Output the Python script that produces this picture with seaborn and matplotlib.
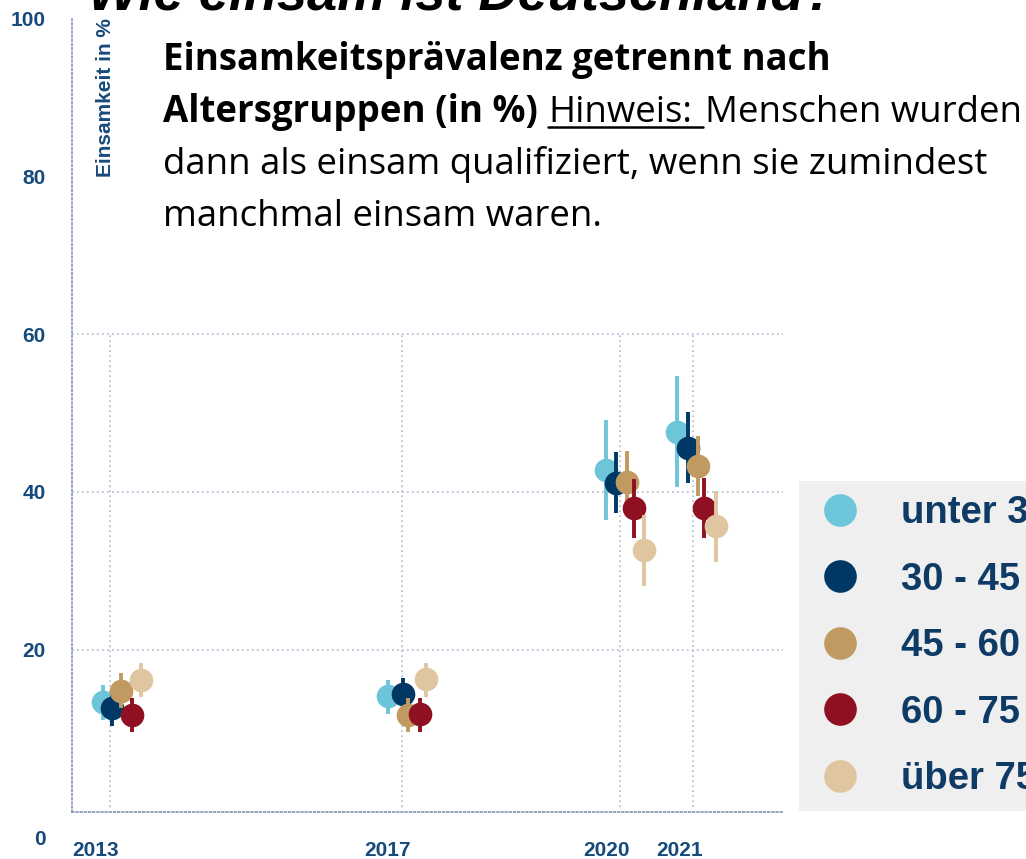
import numpy as np
import pandas as pd
import matplotlib
matplotlib.use("Agg")
import matplotlib.pyplot as plt
import matplotlib.transforms as mtransforms
from matplotlib.lines import Line2D
import seaborn as sns

sns.set_style("white")
plt.rcParams["font.family"] = ["Liberation Sans", "DejaVu Sans"]

# --- data --------------------------------------------------------------
groups = ["unter 30", "30 - 45", "45 - 60", "60 - 75", "über 75"]
colors = ["#6cc5d8", "#003865", "#c19a62", "#901023", "#dfc6a0"]
years = [2013, 2017, 2020, 2021]

# position of each estimate on the time axis (fractional year)
x_u30 = [2012.908, 2016.818, 2019.804, 2020.774]
x_3045 = [2013.023, 2017.015, 2019.941, 2020.925]
x_4560 = [2013.147, 2017.092, 2020.088, 2021.070]
x_6075 = [2013.298, 2017.252, 2020.188, 2021.148]
x_u75 = [2013.425, 2017.331, 2020.325, 2021.309]

val_u30 = [13.3, 14.1, 42.7, 47.6]
val_3045 = [12.6, 14.4, 41.1, 45.6]
val_4560 = [14.8, 11.7, 41.3, 43.3]
val_6075 = [11.7, 11.8, 38.0, 37.9]
val_u75 = [16.1, 16.2, 32.6, 35.7]

lo_u30 = [11.1, 11.8, 36.4, 40.6]
lo_3045 = [10.3, 11.8, 37.3, 41.1]
lo_4560 = [12.6, 9.5, 37.5, 39.4]
lo_6075 = [9.5, 9.5, 34.1, 34.1]
lo_u75 = [14.0, 14.0, 28.0, 31.1]

hi_u30 = [15.5, 16.1, 49.1, 54.7]
hi_3045 = [14.9, 16.4, 45.1, 50.1]
hi_4560 = [17.0, 13.9, 45.2, 47.1]
hi_6075 = [13.9, 13.9, 41.6, 41.7]
hi_u75 = [18.3, 18.3, 37.0, 40.1]

xs = [x_u30, x_3045, x_4560, x_6075, x_u75]
vals = [val_u30, val_3045, val_4560, val_6075, val_u75]
los = [lo_u30, lo_3045, lo_4560, lo_6075, lo_u75]
his = [hi_u30, hi_3045, hi_4560, hi_6075, hi_u75]

rows = []
for g, x, v, lo, hi in zip(groups, xs, vals, los, his):
    for i in range(len(x)):
        rows.append({"group": g, "x": x[i], "val": v[i], "lo": lo[i], "hi": hi[i]})
df = pd.DataFrame(rows)

# --- figure ------------------------------------------------------------
W, H = 1026, 859
fig = plt.figure(figsize=(W / 100, H / 100), dpi=100)
ax = fig.add_axes([72 / W, 47 / H, 711 / W, 793.5 / H])
ax.set_xlim(2012.479, 2022.232)
ax.set_ylim(-0.6, 100)

grid_c = "#aebbd4"
ax.hlines([20, 40, 60], 2012.479, 2022.232, colors=grid_c, lw=1.2,
          linestyles=(0, (1, 2)), zorder=1)
ax.vlines(years, 0, 60, colors=grid_c, lw=1.2, linestyles=(0, (1, 2)), zorder=1)

for i, (g, c) in enumerate(zip(groups, colors)):
    sub = df[df["group"] == g]
    ax.vlines(sub["x"], sub["lo"], sub["hi"], colors=c, lw=2.8, zorder=3 + 2 * i)
    sns.scatterplot(data=sub, x="x", y="val", color=c, s=290, linewidth=0,
                    ax=ax, zorder=4 + 2 * i, legend=False)

ax.set_xlabel("")
ax.set_ylabel("")
for s in ["top", "right"]:
    ax.spines[s].set_visible(False)
for s in ["left", "bottom"]:
    ax.spines[s].set_linestyle((0, (1, 1.5)))
    ax.spines[s].set_color("#8494b4")
    ax.spines[s].set_linewidth(1.2)

navy = "#164a7b"
ax.set_yticks([0, 20, 40, 60, 80, 100])
ax.set_yticklabels(["0", "20", "40", "60", "80", "100"])
ax.set_xticks(years)
ax.set_xticklabels([str(y) for y in years])
ax.tick_params(axis="y", length=0, pad=19, labelsize=15, labelcolor=navy)
ax.tick_params(axis="x", length=0, pad=21, labelsize=15, labelcolor=navy)
for lab in ax.get_yticklabels() + ax.get_xticklabels():
    lab.set_fontweight("bold")
for lab in ax.get_xticklabels():
    lab.set_transform(lab.get_transform() +
                      mtransforms.ScaledTranslation(-0.14, 0, fig.dpi_scale_trans))
zero = ax.get_yticklabels()[0]
zero.set_transform(zero.get_transform() +
                   mtransforms.ScaledTranslation(0, -0.30, fig.dpi_scale_trans))

ax.text(0.047, 1.0, "Einsamkeit in %", transform=ax.transAxes, rotation=90,
        ha="center", va="top", fontsize=15, fontweight="bold", color=navy)

# legend
handles = [Line2D([], [], marker="o", linestyle="none", markersize=23.5,
                  markerfacecolor=c, markeredgewidth=0) for c in colors]
leg = ax.legend(handles, groups, loc="upper left",
                bbox_to_anchor=(799 / W, 1 - 481 / H), bbox_transform=fig.transFigure,
                borderaxespad=0, frameon=True, fancybox=False, facecolor="#efefef",
                edgecolor="none", framealpha=1, borderpad=0.37, handlelength=1.4,
                handletextpad=0.9, labelspacing=0.8,
                prop={"family": "Liberation Sans", "weight": "bold", "size": 27.5},
                labelcolor="#0d3b66")

# --- overlay texts -------------------------------------------------------
fig.text(88 / W, 1 - 10 / H, "Wie einsam ist Deutschland?", fontsize=39,
         fontweight="bold", style="italic", va="baseline", ha="left", color="black")

renderer = fig.canvas.get_renderer()
tfont = ["Open Sans", "Noto Sans", "DejaVu Sans"]
tsize = 26.4


def put(x, y, s, **kw):
    t = fig.text(x / W, 1 - y / H, s, fontsize=tsize, family=tfont,
                 va="baseline", ha="left", color="black", **kw)
    return t, t.get_window_extent(renderer)


_, b1 = put(163, 70, "Einsamkeitsprävalenz getrennt nach", fontweight="bold")
_, b2 = put(163, 122, "Altersgruppen (in %)", fontweight="bold")
p1, bsp = put(0, 122, "a a")
p2, bsp2 = put(0, 122, "aa")
space = bsp.width - bsp2.width
p1.remove()
p2.remove()
x_h = b2.x1 + space * 1.1
_, b3 = put(x_h, 122, "Hinweis:")
x_m = b3.x1 + space * 1.3
fig.add_artist(Line2D([x_h / W, (x_m - 2) / W], [1 - 127 / H, 1 - 127 / H],
                      color="black", lw=1.8, transform=fig.transFigure))
put(x_m, 122, "Menschen wurden")
put(163, 174, "dann als einsam qualifiziert, wenn sie zumindest")
put(163, 226, "manchmal einsam waren.")

fig.savefig("out.png", dpi=100)
